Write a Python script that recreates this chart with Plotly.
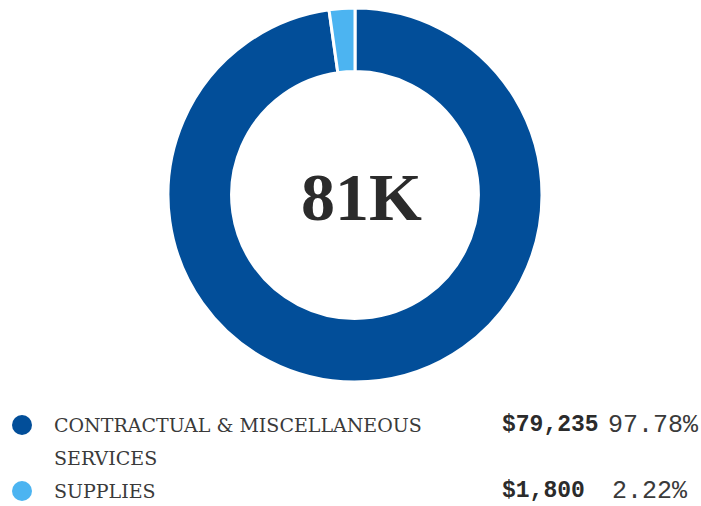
import plotly.graph_objects as go

categories = ["CONTRACTUAL & MISCELLANEOUS SERVICES", "SUPPLIES"]
legend_lines = [["CONTRACTUAL & MISCELLANEOUS", "SERVICES"], ["SUPPLIES"]]
amounts = [79235, 1800]
colors = ["#024e99", "#4cb4f1"]
center_label = "81K"

total = sum(amounts)
W, H = 701, 506

fig = go.Figure()
fig.add_trace(go.Pie(
    labels=categories,
    values=amounts,
    hole=0.66,
    sort=False,
    direction="clockwise",
    rotation=0,
    marker=dict(colors=colors, line=dict(color="white", width=3)),
    textinfo="none",
    hoverinfo="label+value+percent",
    domain=dict(x=[168 / W, 542 / W], y=[1 - 382 / H, 1 - 8 / H]),
    showlegend=False,
))

fig.add_annotation(
    x=361 / W, y=1 - 197 / H, xref="paper", yref="paper",
    text=center_label, showarrow=False,
    font=dict(family="Liberation Serif", size=68, color="#2b2b2b", weight="bold"),
    xanchor="center", yanchor="middle",
)

# Custom legend rows: dot, label, amount, share
row_y = [425, 491]
for i, name_lines in enumerate(legend_lines):
    y = row_y[i]
    fig.add_shape(
        type="circle", xref="paper", yref="paper",
        x0=12 / W, x1=32 / W, y0=1 - (y + 10) / H, y1=1 - (y - 10) / H,
        fillcolor=colors[i], line=dict(width=0),
    )
    for j, line in enumerate(name_lines):
        fig.add_annotation(
            x=52 / W, y=1 - (y + 33 * j) / H, xref="paper", yref="paper",
            text=line, showarrow=False, xanchor="left", yanchor="middle",
            font=dict(family="DejaVu Serif", size=19, color="#3a3a3a"),
        )
    fig.add_annotation(
        x=500 / W, y=1 - y / H, xref="paper", yref="paper",
        text=f"${amounts[i]:,}", showarrow=False, xanchor="left", yanchor="middle",
        font=dict(family="Liberation Mono", size=23, color="#2b2b2b", weight="bold"),
    )
    pct = amounts[i] / total * 100
    fig.add_annotation(
        x=(606 if i == 0 else 610) / W, y=1 - y / H, xref="paper", yref="paper",
        text=f"{pct:.2f}%", showarrow=False, xanchor="left", yanchor="middle",
        font=dict(family="Liberation Mono", size=25, color="#3a3a3a"),
    )

fig.update_layout(
    width=W, height=H,
    margin=dict(l=0, r=0, t=0, b=0),
    paper_bgcolor="white", plot_bgcolor="white",
)

fig.write_html("out.html")
